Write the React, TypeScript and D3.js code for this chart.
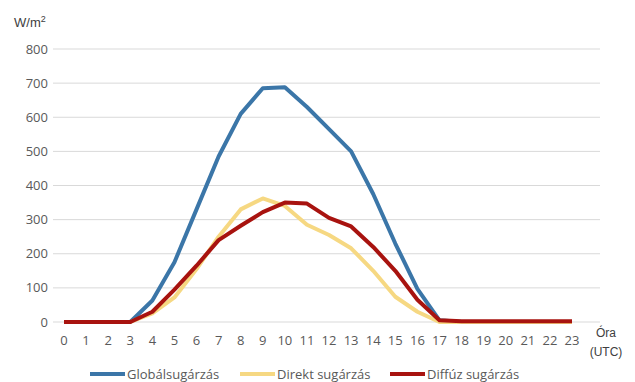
import React from "react";
import * as d3 from "d3";

const hours = d3.range(0, 24);
const globalRad = [0, 0, 0, 0, 63, 175, 330, 485, 610, 685, 688, 630, 565, 500, 375, 230, 97, 5, 0, 0, 0, 0, 0, 0];
const directRad = [0, 0, 0, 0, 25, 72, 155, 250, 330, 362, 340, 285, 255, 216, 150, 74, 30, 0, 0, 0, 0, 0, 0, 0];
const diffuseRad = [0, 0, 0, 0, 30, 95, 165, 240, 282, 322, 350, 347, 305, 280, 220, 150, 65, 5, 2, 2, 2, 2, 2, 2];
const yTicks = [0, 100, 200, 300, 400, 500, 600, 700, 800];

const seriesList = [
  { name: "Globálsugárzás", values: globalRad, color: "#3B76A8" },
  { name: "Direkt sugárzás", values: directRad, color: "#F6D882" },
  { name: "Diffúz sugárzás", values: diffuseRad, color: "#A8130F" },
];

const W = 635;
const H = 382;
const font = "'Open Sans', 'Noto Sans', sans-serif";
const textColor = "#595959";

export default function App() {
  const x = d3.scaleLinear().domain([0, 23]).range([64, 572]);
  const y = d3.scaleLinear().domain([0, 800]).range([322, 49]);
  const line = d3
    .line<number>()
    .x((_, i) => x(hours[i]))
    .y((d) => y(d))
    .curve(d3.curveLinear);

  const legendX = [90, 240, 390];

  return (
    <svg
      width={W}
      height={H}
      style={{ position: "absolute", left: 0, top: 0, background: "#fff" }}
      fontFamily={font}
    >
      <rect width={W} height={H} fill="#fff" />
      {yTicks.map((t) => (
        <g key={t}>
          <line x1={53} x2={600} y1={y(t)} y2={y(t)} stroke="#D9D9D9" strokeWidth={1} />
          <text x={48} y={y(t)} dy="0.35em" textAnchor="end" fontSize={13} fill={textColor}>
            {t}
          </text>
        </g>
      ))}
      {hours.map((h) => (
        <text key={h} x={x(h)} y={345} textAnchor="middle" fontSize={13} fill={textColor}>
          {h}
        </text>
      ))}
      <text x={14} y={27} fontSize={13} fill="#404040" fontFamily="'Liberation Sans', Arial, sans-serif">
        W/m<tspan fontSize={9} dy={-5}>2</tspan>
      </text>
      <text x={606} y={337} textAnchor="middle" fontSize={12} fill="#404040" fontFamily="'Liberation Sans', Arial, sans-serif">
        Óra
      </text>
      <text x={606} y={356} textAnchor="middle" fontSize={12} fill="#404040" fontFamily="'Liberation Sans', Arial, sans-serif">
        (UTC)
      </text>
      {seriesList.map((s) => (
        <path
          key={s.name}
          d={line(s.values) ?? ""}
          fill="none"
          stroke={s.color}
          strokeWidth={4}
          strokeLinejoin="round"
        />
      ))}
      {seriesList.map((s, i) => (
        <g key={s.name} transform={`translate(${legendX[i]},374)`}>
          <line x1={0} x2={35} y1={0} y2={0} stroke={s.color} strokeWidth={4} />
          <text x={37} y={0} dy="0.35em" fontSize={13} fill={textColor}>
            {s.name}
          </text>
        </g>
      ))}
    </svg>
  );
}
